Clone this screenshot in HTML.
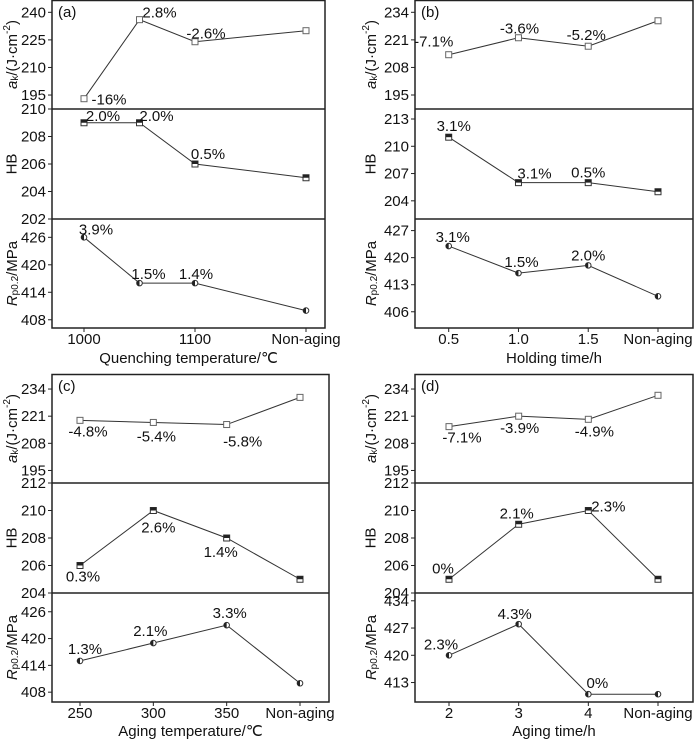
<!DOCTYPE html>
<html><head><meta charset="utf-8"><style>
html,body{margin:0;padding:0;background:#fff;}
svg{display:block;font-family:"Liberation Sans",sans-serif;}
</style></head><body>
<svg id="chart" width="700" height="739" viewBox="0 0 700 739"></svg>
<script>
// ---- data ----
const xPos_a = [1000, 1050, 1100, 1200];
const xTickVals_a = [1000, 1100, 1200];
const xTickLabels_a = ["1000", "1100", "Non-aging"];
const ak_a = [193, 236, 224, 230];
const hb_a = [209, 209, 206, 205];
const rp_a = [426, 416, 416, 410];
const akLbl_a = ["-16%", "2.8%", "-2.6%"];
const hbLbl_a = ["2.0%", "2.0%", "0.5%"];
const rpLbl_a = ["3.9%", "1.5%", "1.4%"];

const xPos_b = [0.5, 1.0, 1.5, 2.0];
const xTickVals_b = [0.5, 1.0, 1.5, 2.0];
const xTickLabels_b = ["0.5", "1.0", "1.5", "Non-aging"];
const ak_b = [214, 222, 218, 230];
const hb_b = [211, 206, 206, 205];
const rp_b = [423, 416, 418, 410];
const akLbl_b = ["-7.1%", "-3.6%", "-5.2%"];
const hbLbl_b = ["3.1%", "3.1%", "0.5%"];
const rpLbl_b = ["3.1%", "1.5%", "2.0%"];

const xPos_c = [250, 300, 350, 400];
const xTickVals_c = [250, 300, 350, 400];
const xTickLabels_c = ["250", "300", "350", "Non-aging"];
const ak_c = [219, 218, 217, 230];
const hb_c = [206, 210, 208, 205];
const rp_c = [415, 419, 423, 410];
const akLbl_c = ["-4.8%", "-5.4%", "-5.8%"];
const hbLbl_c = ["0.3%", "2.6%", "1.4%"];
const rpLbl_c = ["1.3%", "2.1%", "3.3%"];

const xPos_d = [2, 3, 4, 5];
const xTickVals_d = [2, 3, 4, 5];
const xTickLabels_d = ["2", "3", "4", "Non-aging"];
const ak_d = [216, 221, 219.5, 231];
const hb_d = [205, 209, 210, 205];
const rp_d = [420, 428, 410, 410];
const akLbl_d = ["-7.1%", "-3.9%", "-4.9%"];
const hbLbl_d = ["0%", "2.1%", "2.3%"];
const rpLbl_d = ["2.3%", "4.3%", "0%"];

const akTicks_a = [195, 210, 225, 240];
const hbTicks_a = [202, 204, 206, 208, 210];
const rpTicks_a = [408, 414, 420, 426];
const akTicks_b = [195, 208, 221, 234];
const hbTicks_b = [204, 207, 210, 213];
const rpTicks_b = [406, 413, 420, 427];
const akTicks_c = [195, 208, 221, 234];
const hbTicks_c = [204, 206, 208, 210, 212];
const rpTicks_c = [408, 414, 420, 426];
const akTicks_d = [195, 208, 221, 234];
const hbTicks_d = [204, 206, 208, 210, 212];
const rpTicks_d = [413, 420, 427, 434];

// ---- layout ----
const NS = "http://www.w3.org/2000/svg";
const svg = document.getElementById("chart");
const FS = 15;
function mk(tag, attrs, parent, text){
  const e = document.createElementNS(NS, tag);
  for (const k in attrs) e.setAttribute(k, attrs[k]);
  if (text !== undefined) e.textContent = text;
  (parent || svg).appendChild(e);
  return e;
}

const panels = [
  {id:"a", L:52, R:325, T:0, B:328, d1:109, d2:219, xd:[1000,1200], xr:[84,306], xlab:"Quenching temperature/℃", xs:xPos_a, xtv:xTickVals_a, xtl:xTickLabels_a,
   ak:ak_a, hb:hb_a, rp:rp_a, akL:akLbl_a, hbL:hbLbl_a, rpL:rpLbl_a, akD:[187.4,246.7], hbD:[202,210], rpD:[406.2,430], akT:akTicks_a, hbT:hbTicks_a, rpT:rpTicks_a,
   akO:[[25,1],[20,-7],[11,-8]], hbO:[[19,-7],[17,-7],[13,-10]], rpO:[[12,-8],[9,-9],[1,-9]], titleX:12, xtY:363},
  {id:"b", L:415, R:693, T:0, B:328, d1:109, d2:219, xd:[0.5,2.0], xr:[448.7,658], xlab:"Holding time/h", xs:xPos_b, xtv:xTickVals_b, xtl:xTickLabels_b,
   ak:ak_b, hb:hb_b, rp:rp_b, akL:akLbl_b, hbL:hbLbl_b, rpL:rpLbl_b, akD:[188.4,239.8], hbD:[202,214.1], rpD:[401.8,430], akT:akTicks_b, hbT:hbTicks_b, rpT:rpTicks_b,
   akO:[[-15,-13],[1,-9],[-2,-11]], hbO:[[5,-11],[16,-9],[0,-10]], rpO:[[4,-9],[3,-11],[0,-10]], titleX:371, xtY:363},
  {id:"c", L:52, R:329, T:374, B:702, d1:483, d2:593, xd:[250,400], xr:[80,300], xlab:"Aging temperature/℃", xs:xPos_c, xtv:xTickVals_c, xtl:xTickLabels_c,
   ak:ak_c, hb:hb_c, rp:rp_c, akL:akLbl_c, hbL:hbLbl_c, rpL:rpLbl_c, akD:[189,241.2], hbD:[204,212], rpD:[405.8,430.2], akT:akTicks_c, hbT:hbTicks_c, rpT:rpTicks_c,
   akO:[[8,11],[3,14],[16,17]], hbO:[[3,11],[5,17],[-6,14]], rpO:[[5,-12],[-3,-12],[3,-12]], titleX:12, xtY:736},
  {id:"d", L:415, R:693, T:374, B:702, d1:483, d2:593, xd:[2,5], xr:[449,658], xlab:"Aging time/h", xs:xPos_d, xtv:xTickVals_d, xtl:xTickLabels_d,
   ak:ak_d, hb:hb_d, rp:rp_d, akL:akLbl_d, hbL:hbLbl_d, rpL:rpLbl_d, akD:[189,241.2], hbD:[204,212], rpD:[408,436], akT:akTicks_d, hbT:hbTicks_d, rpT:rpTicks_d,
   akO:[[13,11],[1,12],[6,12]], hbO:[[-6,-11],[-2,-11],[20,-4]], rpO:[[-8,-11],[-4,-10],[9,-11]], titleX:371, xtY:736}
];

panels.forEach(p => {
  const g = mk("g", {}, svg);
  
  
  const xs = v => p.xr[0] + (v - p.xd[0]) * (p.xr[1] - p.xr[0]) / (p.xd[1] - p.xd[0]);
  const subs = [
    {key:"ak", top:p.T, bot:p.d1, dom:p.akD, vals:p.ak, lbl:p.akL, off:p.akO, ticks:p.akT, marker:"open-square"},
    {key:"hb", top:p.d1, bot:p.d2, dom:p.hbD, vals:p.hb, lbl:p.hbL, off:p.hbO, ticks:p.hbT, marker:"half-square"},
    {key:"rp", top:p.d2, bot:p.B, dom:p.rpD, vals:p.rp, lbl:p.rpL, off:p.rpO, ticks:p.rpT, marker:"half-circle"}
  ];
  const fr = mk("rect", {x:p.L, y:p.T+0.5, width:p.R-p.L, height:p.B-p.T-0.5, fill:"none", stroke:"#222", "stroke-width":1.5}, g);
  
  
  [p.d1, p.d2].forEach(y => {
    const l = mk("line", {x1:p.L, x2:p.R, y1:y, y2:y, stroke:"#222", "stroke-width":1.5}, g);
    
    
  });
  const pl = mk("text", {x:p.L+6, y:p.T+17, "font-size":FS, fill:"#111"}, g, "(" + p.id + ")");
  
  

  subs.forEach(s => {
    const ys = v => s.bot - (v - s.dom[0]) * (s.bot - s.top) / (s.dom[1] - s.dom[0]);
    s.ticks.forEach(t => {
      const y = ys(t);
      const tk = mk("line", {x1:p.L-4, x2:p.L, y1:y, y2:y, stroke:"#222", "stroke-width":1}, g);
      
      
      const tl = mk("text", {x:p.L-6, y:y+5, "font-size":FS, "text-anchor":"end", fill:"#111"}, g, String(t));
      
      
    });
    const cy = (s.top + s.bot) / 2;
    const tt = mk("text", {x:p.titleX, y:cy, "font-size":FS, "text-anchor":"middle", transform:"rotate(-90 "+p.titleX+" "+cy+")", "dominant-baseline":"central", fill:"#111"}, g);
    
    
    if (s.key === "ak") {
      mk("tspan", {"font-style":"italic"}, tt, "a");
      mk("tspan", {"font-size":10, dy:3}, tt, "k");
      mk("tspan", {dy:-3}, tt, "/(J·cm");
      mk("tspan", {"font-size":10, dy:-5}, tt, "-2");
      mk("tspan", {dy:5}, tt, ")");
    } else if (s.key === "hb") {
      tt.textContent = "HB";
    } else {
      mk("tspan", {"font-style":"italic"}, tt, "R");
      mk("tspan", {"font-size":10, dy:3}, tt, "p0.2");
      mk("tspan", {dy:-3}, tt, "/MPa");
    }
    const pts = s.vals.map((v, i) => xs(p.xs[i]) + "," + ys(v)).join(" ");
    const ln = mk("polyline", {points:pts, fill:"none", stroke:"#333", "stroke-width":1}, g);
    
    
    s.vals.forEach((v, i) => {
      const x = xs(p.xs[i]), y = ys(v);
      let m;
      if (s.marker === "open-square") {
        m = mk("rect", {x:x-3, y:y-3, width:6, height:6, fill:"#fff", stroke:"#666", "stroke-width":1}, g);
      } else if (s.marker === "half-square") {
        m = mk("g", {}, g);
        mk("rect", {x:x-3, y:y-3, width:6, height:6, fill:"#fff", stroke:"#333", "stroke-width":1}, m);
        mk("rect", {x:x-3, y:y-3, width:6, height:3, fill:"#222"}, m);
      } else {
        m = mk("g", {}, g);
        mk("circle", {cx:x, cy:y, r:2.8, fill:"#fff", stroke:"#333", "stroke-width":1}, m);
        mk("path", {d:"M"+x+","+(y-2.8)+" A2.8,2.8 0 0 0 "+x+","+(y+2.8)+" Z", fill:"#222"}, m);
      }
      
      
      if (i < s.lbl.length) {
        const o = s.off[i];
        const at = mk("text", {x:x+o[0], y:y+o[1]+5, "font-size":FS, "text-anchor":"middle", fill:"#111"}, g, s.lbl[i]);
        
        
      }
    });
  });
  p.xtv.forEach((v, i) => {
    const x = xs(v);
    const tk = mk("line", {x1:x, x2:x, y1:p.B, y2:p.B+4, stroke:"#222", "stroke-width":1}, g);
    
    
    const tl = mk("text", {x:x, y:p.B+16, "font-size":FS, "text-anchor":"middle", fill:"#111"}, g, p.xtl[i]);
    
    
  });
  const xt = mk("text", {x:(p.L+p.R)/2, y:p.xtY, "font-size":FS, "text-anchor":"middle", fill:"#111"}, g, p.xlab);
  
  
});
</script>
</body></html>
